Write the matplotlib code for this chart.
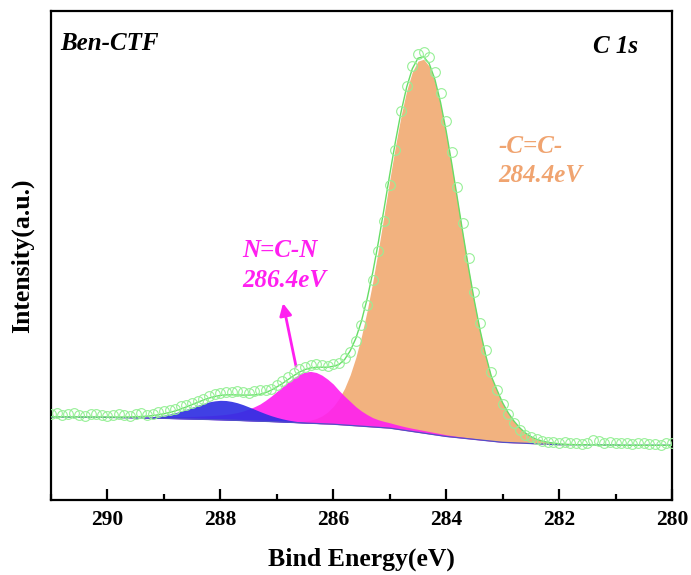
import numpy as np
import matplotlib
matplotlib.use("Agg")
import matplotlib.pyplot as plt
from matplotlib.ticker import MultipleLocator

# ---- données (C 1s, Ben-CTF) ----
# grille en énergie de liaison, pas de 0.1 eV, de 291 à 280 eV
energy = np.round(np.arange(291.0, 279.95, -0.1), 1)

baseline = [
    .1700, .1699, .1698, .1697, .1696, .1695, .1694, .1693, .1692, .1691,
    .1690, .1688, .1686, .1684, .1682, .1680, .1678, .1676, .1674, .1672,
    .1670, .1667, .1664, .1661, .1658, .1655, .1652, .1649, .1646, .1643,
    .1640, .1636, .1632, .1628, .1624, .1620, .1616, .1612, .1608, .1604,
    .1600, .1595, .1590, .1585, .1580, .1575, .1570, .1565, .1560, .1555,
    .1550, .1542, .1534, .1526, .1518, .1510, .1502, .1494, .1486, .1478,
    .1470, .1453, .1436, .1419, .1402, .1385, .1368, .1351, .1334, .1317,
    .1300, .1288, .1276, .1264, .1252, .1240, .1228, .1216, .1204, .1192,
    .1180, .1175, .1170, .1165, .1160, .1155, .1150, .1145, .1140, .1135,
    .1130, .1130, .1130, .1130, .1130, .1130, .1125, .1125, .1125, .1125,
    .1125, .1120, .1120, .1120, .1120, .1120, .1120, .1120, .1120, .1120, .1120,
]

# pic ~288.0 eV (bleu)
peak_blue = [
    0, 0, 0, 0, 0, 0, 0, 0, 0, 0,
    0, 0, .0001, .0003, .0004, .0008, .0012, .0020, .0030, .0045,
    .0065, .0090, .0121, .0158, .0199, .0243, .0286, .0327, .0361, .0385,
    .0399, .0399, .0385, .0361, .0327, .0286, .0243, .0199, .0158, .0121,
    .0090, .0065, .0045, .0030, .0020, .0012, .0008, .0004, .0003, .0001,
    0, 0, 0, 0, 0, 0, 0, 0, 0, 0,
    0, 0, 0, 0, 0, 0, 0, 0, 0, 0,
    0, 0, 0, 0, 0, 0, 0, 0, 0, 0,
    0, 0, 0, 0, 0, 0, 0, 0, 0, 0,
    0, 0, 0, 0, 0, 0, 0, 0, 0, 0,
    0, 0, 0, 0, 0, 0, 0, 0, 0, 0, 0,
]

# N=C-N, 286.4 eV (magenta)
peak_ncn = [
    .0003, .0003, .0003, .0004, .0004, .0005, .0005, .0006, .0006, .0007,
    .0008, .0009, .0010, .0011, .0013, .0015, .0017, .0019, .0022, .0025,
    .0029, .0033, .0037, .0042, .0048, .0054, .0061, .0069, .0078, .0088,
    .0100, .0115, .0135, .0160, .0195, .0240, .0290, .0350, .0430, .0520,
    .0620, .0720, .0822, .0916, .0993, .1043, .1060, .1043, .0993, .0916,
    .0822, .0700, .0590, .0490, .0390, .0310, .0245, .0190, .0155, .0130,
    .0110, .0095, .0082, .0072, .0065, .0060, .0055, .0050, .0045, .0040,
    .0035, .0030, .0026, .0023, .0020, .0018, .0015, .0013, .0011, .0010,
    .0008, .0007, .0006, .0005, .0004, .0003, .0002, .0001, 0, 0,
    0, 0, 0, 0, 0, 0, 0, 0, 0, 0,
    0, 0, 0, 0, 0, 0, 0, 0, 0, 0, 0,
]

# -C=C-, 284.4 eV (orange)
peak_cc = [
    0, 0, 0, 0, 0, 0, 0, 0, 0, 0,
    0, 0, 0, 0, 0, 0, 0, 0, 0, 0,
    0, 0, 0, 0, 0, 0, 0, 0, 0, 0,
    0, 0, 0, 0, 0, 0, 0, 0, 0, .0001,
    .0002, .0004, .0008, .0013, .0023, .0039, .0064, .0102, .0160, .0244,
    .0363, .0528, .0748, .1035, .1398, .1842, .2369, .2973, .3640, .4351,
    .5074, .5774, .6414, .6952, .7353, .7590, .7646, .7521, .7224, .6777,
    .6209, .5555, .4854, .4142, .3452, .2810, .2234, .1733, .1314, .1050,
    .0800, .0600, .0440, .0310, .0210, .0140, .0090, .0060, .0040, .0030,
    .0020, .0010, .0005, .0002, .0001, 0, 0, 0, 0, 0,
    0, 0, 0, 0, 0, 0, 0, 0, 0, 0, 0,
]

# points expérimentaux (cercles)
measured = [
    .176, .178, .174, .175, .177, .173, .172, .175, .176, .173,
    .171, .174, .176, .173, .171, .175, .177, .174, .176, .179,
    .182, .185, .186, .192, .194, .199, .203, .207, .212, .216,
    .218, .221, .220, .222, .221, .219, .223, .224, .226, .228,
    .236, .243, .251, .259, .268, .273, .276, .279, .276, .275,
    .279, .281, .290, .302, .326, .358, .398, .450, .510, .570,
    .645, .715, .795, .846, .887, .912, .916, .905, .875, .832,
    .776, .712, .640, .566, .494, .425, .362, .307, .261, .224,
    .196, .176, .158, .143, .133, .128, .124, .121, .119, .118,
    .117, .118, .116, .117, .115, .117, .123, .120, .117, .119,
    .117, .116, .117, .115, .116, .117, .115, .114, .113, .116, .117,
]

x_ticks = [290, 288, 286, 284, 282, 280]

base = np.array(baseline)
blue = np.array(peak_blue)
ncn = np.array(peak_ncn)
cc = np.array(peak_cc)
envelope = base + blue + ncn + cc

serif = ['Liberation Serif', 'DejaVu Serif']
c_orange = '#F2B27F'
c_magenta = '#FF1FF0'
c_blue = '#2F2FE2'
c_green = '#66DD66'

fig = plt.figure(figsize=(6.91, 5.75), dpi=100)
ax = fig.add_axes([0.0738, 0.1304, 0.8987, 0.8504])

# composantes : orange dessous, puis magenta, puis bleu
ax.fill_between(energy, base, base + cc, color=c_orange, lw=0, zorder=1)
ax.fill_between(energy, base, base + ncn, color=c_magenta, alpha=0.9, lw=0, zorder=2)
ax.fill_between(energy, base, base + blue, color=c_blue, alpha=0.92, lw=0, zorder=3)
ax.plot(energy, base, color='#5050C8', lw=0.9, zorder=4)
ax.plot(energy, envelope, color=c_green, lw=1.0, zorder=5)
ax.plot(energy, measured, 'o', ms=7, mfc='none', mec='#96F096', mew=0.8, zorder=6)

ax.set_xlim(291, 280)
ax.set_ylim(0, 1)
ax.set_yticks([])
ax.set_xticks(x_ticks)
ax.xaxis.set_minor_locator(MultipleLocator(1))
ax.tick_params(axis='x', which='major', direction='in', length=8, width=1.6,
               top=False, pad=7)
ax.tick_params(axis='x', which='minor', direction='in', length=4.5, width=1.6, top=False)
for lab in ax.get_xticklabels():
    lab.set_fontfamily(serif)
    lab.set_fontweight('bold')
    lab.set_fontsize(15.5)
for sp in ax.spines.values():
    sp.set_linewidth(1.6)

ax.set_xlabel('Bind Energy(eV)', family=serif, weight='bold', fontsize=18.5, labelpad=13)
ax.set_ylabel('Intensity(a.u.)', family=serif, weight='bold', fontsize=18.5, labelpad=12)

ax.text(290.83, 0.920, 'Ben-CTF', family=serif, weight='bold', style='italic', fontsize=18)
ax.text(280.60, 0.914, 'C 1s', family=serif, weight='bold', style='italic', fontsize=18,
        ha='right')
ax.text(283.08, 0.710, '-C=C-', family=serif, weight='bold', style='italic', fontsize=18,
        color='#F0A470')
ax.text(283.08, 0.650, '284.4eV', family=serif, weight='bold', style='italic', fontsize=18,
        color='#F0A470')
ax.text(287.62, 0.497, 'N=C-N', family=serif, weight='bold', style='italic', fontsize=18,
        color=c_magenta)
ax.text(287.61, 0.436, '286.4eV', family=serif, weight='bold', style='italic', fontsize=18,
        color=c_magenta)
ax.annotate('', xy=(286.90, 0.408), xytext=(286.65, 0.268),
            arrowprops=dict(arrowstyle='-|>', color=c_magenta, lw=2,
                            mutation_scale=18))

fig.savefig('out.png', dpi=100)
